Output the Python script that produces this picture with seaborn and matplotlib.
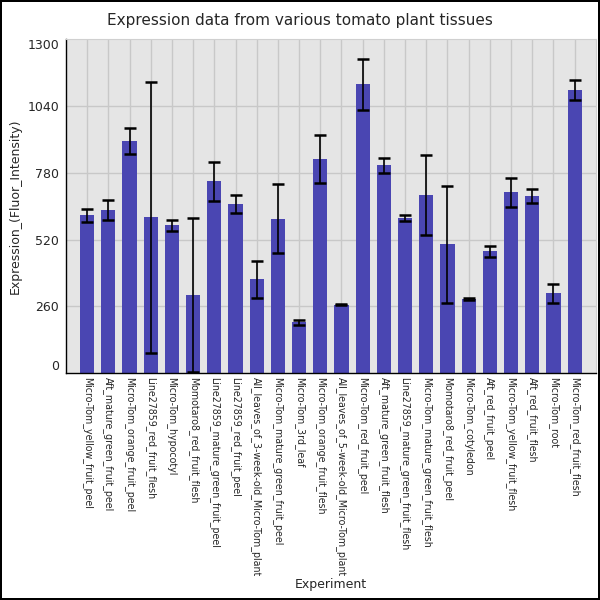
import numpy as np
import pandas as pd
import matplotlib
matplotlib.use("Agg")
import matplotlib.pyplot as plt
import seaborn as sns

# datos
experimentos = [
    "Micro-Tom_yellow_fruit_peel", "Aft_mature_green_fruit_peel",
    "Micro-Tom_orange_fruit_peel", "Line27859_red_fruit_flesh",
    "Micro-Tom_hypocotyl", "Momotaro8_red_fruit_flesh",
    "Line27859_mature_green_fruit_peel", "Line27859_red_fruit_peel",
    "All_leaves_of_3-week-old_Micro-Tom_plant", "Micro-Tom_mature_green_fruit_peel",
    "Micro-Tom_3rd_leaf", "Micro-Tom_orange_fruit_flesh",
    "All_leaves_of_5-week-old_Micro-Tom_plant", "Micro-Tom_red_fruit_peel",
    "Aft_mature_green_fruit_flesh", "Line27859_mature_green_fruit_flesh",
    "Micro-Tom_mature_green_fruit_flesh", "Momotaro8_red_fruit_peel",
    "Micro-Tom_cotyledon", "Aft_red_fruit_peel",
    "Micro-Tom_yellow_fruit_flesh", "Aft_red_fruit_flesh",
    "Micro-Tom_root", "Micro-Tom_red_fruit_flesh",
]
expresion = [614, 634, 902, 606, 575, 303, 746, 657, 365, 601, 198, 832,
             267, 1124, 809, 605, 692, 501, 288, 474, 703, 688, 311, 1101]
error = [26, 40, 50, 528, 21, 299, 75, 35, 71, 134, 10, 93,
         3, 100, 30, 12, 155, 227, 5, 22, 56, 27, 36, 38]
ticks_y = [0, 260, 520, 780, 1040, 1300]

datos = pd.DataFrame({"Experiment": experimentos,
                      "Expression": expresion,
                      "err": error})

sns.set_style("white")
plt.rcParams["font.family"] = ["DejaVu Sans"]

fig = plt.figure(figsize=(6, 6), dpi=100)
fig.patch.set_edgecolor("black")
fig.patch.set_linewidth(1.5)
ax = fig.add_axes([0.11, 0.378, 0.883, 0.557])
ax.set_facecolor("#e5e5e5")

sns.barplot(data=datos, x="Experiment", y="Expression", color="#4a46b2",
            saturation=1, width=0.67, errorbar=None, linewidth=0, ax=ax, zorder=2)
ax.errorbar(np.arange(len(datos)), datos["Expression"], yerr=datos["err"],
            fmt="none", ecolor="black", elinewidth=1.2, capsize=4.5,
            capthick=1.8, zorder=3)

ax.set_xlim(-1, len(datos))
ax.set_ylim(0, 1300)
ax.set_yticks(ticks_y)
ax.set_yticklabels([str(t) for t in ticks_y], fontsize=9)
ax.set_xticks(np.arange(len(datos)))
ax.set_xticklabels(experimentos, rotation=270, fontsize=6.85, va="top", ha="center")

# lineas de la cuadricula
for v in ticks_y[1:-1]:
    ax.axhline(v, color="#c8c8c8", lw=1, zorder=0)
for i in range(len(datos)):
    ax.axvline(i, color="#c8c8c8", lw=1, zorder=0)
ax.grid(False)

# etiquetas de los extremos hacia dentro, como en el original
etiquetas = ax.get_yticklabels()
etiquetas[0].set_verticalalignment("bottom")
etiquetas[-1].set_verticalalignment("top")

for lado in ["top", "right"]:
    ax.spines[lado].set_color("#d0d0d0")
for lado in ["left", "bottom"]:
    ax.spines[lado].set_color("black")
    ax.spines[lado].set_linewidth(1)
ax.tick_params(axis="y", length=3, width=1, color="black", pad=2)
ax.tick_params(axis="x", length=0, pad=3)

ax.set_xlabel("Experiment", fontsize=9, labelpad=1)
ax.set_ylabel("Expression_(Fluor_Intensity)", fontsize=9, labelpad=4)
fig.text(0.5, 0.965, "Expression data from various tomato plant tissues",
         fontsize=11, ha="center", va="center")

fig.savefig("out.png", dpi=100)
